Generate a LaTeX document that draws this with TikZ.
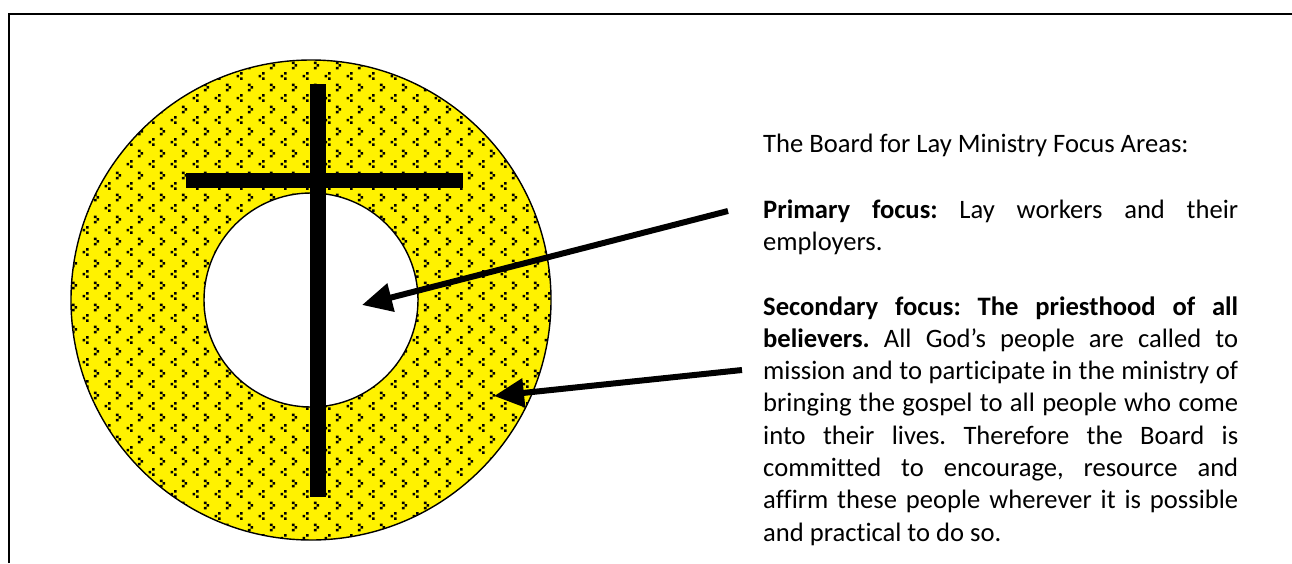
\documentclass[tikz,border=0pt]{standalone}
\usepackage{fontspec}
\setmainfont{Carlito}[Ligatures=NoCommon]
\usetikzlibrary{arrows.meta,patterns}
\pgfdeclarepatternformonly{divot}{\pgfqpoint{0pt}{0pt}}{\pgfqpoint{21.6pt}{21.6pt}}{\pgfqpoint{21.6pt}{21.6pt}}{%
  \pgfpathrectangle{\pgfqpoint{8.1pt}{16.2pt}}{\pgfqpoint{2.6pt}{2.6pt}}%
  \pgfpathrectangle{\pgfqpoint{10.8pt}{13.5pt}}{\pgfqpoint{2.6pt}{2.6pt}}%
  \pgfpathrectangle{\pgfqpoint{8.1pt}{10.8pt}}{\pgfqpoint{2.6pt}{2.6pt}}%
  \pgfpathrectangle{\pgfqpoint{0pt}{5.4pt}}{\pgfqpoint{2.6pt}{2.6pt}}%
  \pgfpathrectangle{\pgfqpoint{18.9pt}{2.7pt}}{\pgfqpoint{2.6pt}{2.6pt}}%
  \pgfpathrectangle{\pgfqpoint{0pt}{0pt}}{\pgfqpoint{2.6pt}{2.6pt}}%
  \pgfusepath{fill}}
\tikzset{
  frameline/.style={line width=2.5pt, black},
  ring/.style={circle, draw=black, line width=1.4pt, inner sep=0pt},
  bar/.style={line width=16pt, black},
  pointer/.style={line width=6pt, black, -{Triangle[length=30pt,width=28pt]}},
  txt/.style={anchor=base west, inner sep=0pt, font=\fontsize{26.6}{32.3}\selectfont\frenchspacing},
  para/.style={txt, text width=475pt, align=justify,
    execute at begin node={\hyphenpenalty=10000\tolerance=10000\emergencystretch=50pt}},
}
\begin{document}
\begin{tikzpicture}[x=1pt, y=-1pt]
\useasboundingbox (0,0) rectangle (1292,563);
% frame
\coordinate (fBL) at (9,563);
\coordinate (fTL) at (9,14);
\coordinate (fTR) at (1292,14);
\draw[frameline] (fBL) -- (fTL) -- (fTR);
% rings
\node[ring, minimum size=480pt, preaction={fill=yellow}, pattern=divot, pattern color=black] (outer) at (311,300) {};
\node[ring, minimum size=214pt, fill=white] (inner) at (311,300) {};
% cross
\coordinate (vt) at (318,84);
\coordinate (vb) at (318,497);
\coordinate (hl) at (186,180.5);
\coordinate (hr) at (463,180.5);
\draw[bar] (vt) -- (vb);
\draw[line width=15pt] (hl) -- (hr);
% text
\node[txt] (title) at (763,152) {The Board for Lay Ministry Focus Areas:};
\node[para] (prim) at (763,218) {\textbf{Primary focus:} Lay workers and their\linebreak employers.};
\node[para] (sec) at (763,315) {\textbf{Secondary focus: The priesthood of all\linebreak believers.} All God’s people are called to\linebreak mission and to participate in the ministry of\linebreak bringing the gospel to all people who come\linebreak into their lives. Therefore the Board is\linebreak committed to encourage, resource and\linebreak affirm these people wherever it is possible\linebreak and practical to do so.};
% arrows
\coordinate (a1s) at (728,211);
\coordinate (a1e) at (362,305);
\coordinate (a2s) at (742,370);
\coordinate (a2e) at (494,396);
\draw[pointer] (a1s) -- (a1e);
\draw[pointer] (a2s) -- (a2e);
\end{tikzpicture}
\end{document}
